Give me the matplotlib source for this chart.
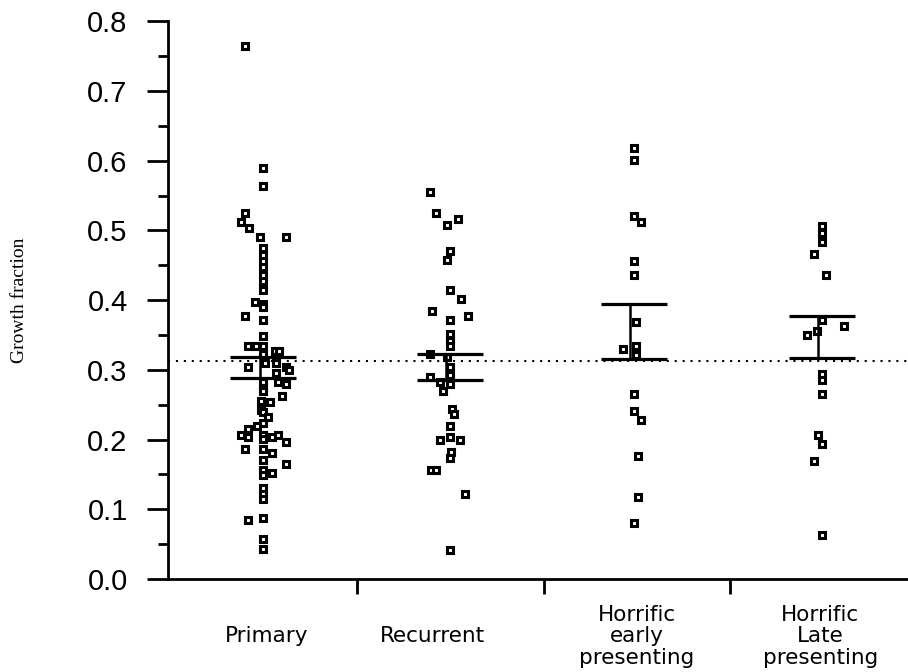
import matplotlib

matplotlib.use("Agg")
import matplotlib.pyplot as plt
import matplotlib.transforms as mtransforms

# categories
categories = ["Primary", "Recurrent", "Horrific\nearly\npresenting", "Horrific\nLate\npresenting"]

primary = [0.765, 0.589, 0.563, 0.525, 0.512, 0.504, 0.491, 0.491, 0.475, 0.465,
           0.456, 0.447, 0.436, 0.427, 0.415, 0.397, 0.395, 0.390, 0.377, 0.372,
           0.348, 0.334, 0.334, 0.334, 0.327, 0.327, 0.322, 0.310, 0.310, 0.304,
           0.304, 0.300, 0.296, 0.283, 0.283, 0.279, 0.274, 0.269, 0.262, 0.256,
           0.254, 0.243, 0.240, 0.232, 0.224, 0.219, 0.215, 0.207, 0.203, 0.207,
           0.201, 0.204, 0.206, 0.196, 0.187, 0.187, 0.181, 0.170, 0.165, 0.157,
           0.152, 0.149, 0.130, 0.122, 0.115, 0.0845, 0.088, 0.058, 0.0425]
primary_jitter = [-0.10, 0, 0, -0.10, -0.12, -0.075, -0.02, 0.12, 0, 0,
                  0, 0, 0, 0, 0, -0.045, 0, 0, -0.10, 0,
                  0, -0.08, -0.04, 0, 0.065, 0.085, 0, 0.01, 0.07, -0.08,
                  0.12, 0.135, 0.07, 0, 0.08, 0.12, 0, 0, 0.10, -0.01,
                  0.035, -0.01, 0, 0.027, 0, -0.036, -0.08, -0.12, -0.08, 0,
                  0, 0.045, 0.08, 0.12, -0.10, 0, 0.045, 0, 0.12, 0,
                  0.045, 0, 0, 0, 0, -0.08, 0, 0, 0]

recurrent = [0.555, 0.525, 0.516, 0.508, 0.470, 0.457, 0.415, 0.402, 0.384, 0.377,
             0.372, 0.352, 0.342, 0.334, 0.322, 0.318, 0.304, 0.292, 0.290, 0.282,
             0.280, 0.270, 0.2445, 0.237, 0.219, 0.203, 0.199, 0.199, 0.182, 0.173,
             0.156, 0.156, 0.122, 0.0415]
recurrent_jitter = [-0.11, -0.075, 0.043, -0.016, 0, -0.016, 0, 0.06, -0.096, 0.096,
                    0, 0, 0, 0, -0.11, -0.016, 0, 0, -0.11, -0.053,
                    0, -0.04, 0.01, 0.02, 0, 0, -0.053, 0.05, 0.005, 0,
                    -0.10, -0.075, 0.08, 0]

early = [0.618, 0.601, 0.521, 0.512, 0.4565, 0.4355, 0.368, 0.334, 0.330, 0.321,
         0.266, 0.241, 0.228, 0.177, 0.118, 0.080]
early_jitter = [0, 0, 0, 0.037, 0, 0, 0.01, 0.01, -0.059, 0.01,
                0, 0, 0.037, 0.02, 0.02, 0]

late = [0.507, 0.496, 0.483, 0.466, 0.436, 0.372, 0.363, 0.3505, 0.355, 0.294,
        0.286, 0.266, 0.207, 0.194, 0.169, 0.063]
late_jitter = [0, 0, 0, -0.043, 0.02, 0, 0.118, -0.08, -0.027, 0,
               0, 0, -0.02, 0, -0.043, 0]

# lower / upper horizontal bars per group
bar_low = [0.288, 0.286, 0.316, 0.317]
bar_high = [0.318, 0.323, 0.394, 0.377]
reference_level = 0.313

groups = [(primary, primary_jitter), (recurrent, recurrent_jitter),
          (early, early_jitter), (late, late_jitter)]
positions = [1.0, 2.0, 2.985, 3.99]
label_x = [1.02, 1.906, 3.0, 3.98]

fig = plt.figure(figsize=(9.08, 6.72), dpi=100)
ax = fig.add_axes([0.185, 0.1384, 0.815, 0.830])

for pos, (vals, jit) in zip(positions, groups):
    xs = [pos + j for j in jit]
    ax.plot(xs, vals, linestyle="none", marker="s", markersize=3.8,
            markerfacecolor="white", markeredgecolor="black", markeredgewidth=2.2,
            zorder=3)

half = 0.176
for pos, lo, hi in zip(positions, bar_low, bar_high):
    ax.hlines([lo, hi], pos - half, pos + half, color="black", linewidth=2.3, zorder=4)
    ax.vlines(pos - 0.02, lo, hi, color="black", linewidth=1.8, zorder=4)

ax.axhline(reference_level, color="black", linewidth=1.5, linestyle=(0, (1, 2.8)), zorder=2)

ax.set_xlim(0.49, 4.45)
ax.set_ylim(0, 0.8)

for side in ("top", "right"):
    ax.spines[side].set_visible(False)
for side in ("left", "bottom"):
    ax.spines[side].set_linewidth(2.0)

ax.set_yticks([i / 10 for i in range(9)])
ax.set_yticks([0.05 + i / 10 for i in range(8)], minor=True)
ax.set_yticklabels([f"{i / 10:.1f}" for i in range(9)],
                   fontfamily="Liberation Sans", fontsize=21)
ax.tick_params(axis="y", which="major", length=15, width=2.0, pad=14)
ax.tick_params(axis="y", which="minor", length=7.5, width=2.0)

ax.set_xticks([1.5, 2.5, 3.5])
ax.set_xticklabels([])
ax.tick_params(axis="x", which="major", length=11, width=2.0)

trans = mtransforms.blended_transform_factory(ax.transData, ax.transAxes)
for x, text in zip(label_x, categories):
    ax.text(x, -0.103, text, transform=trans, ha="center", va="center",
            fontfamily="DejaVu Sans", fontsize=15.5, linespacing=1.08)

fig.text(0.0215, 0.553, "Growth fraction", rotation=90, ha="center", va="center",
         fontfamily="Liberation Serif", fontsize=14)

fig.savefig("out.png", dpi=100, facecolor="white")
